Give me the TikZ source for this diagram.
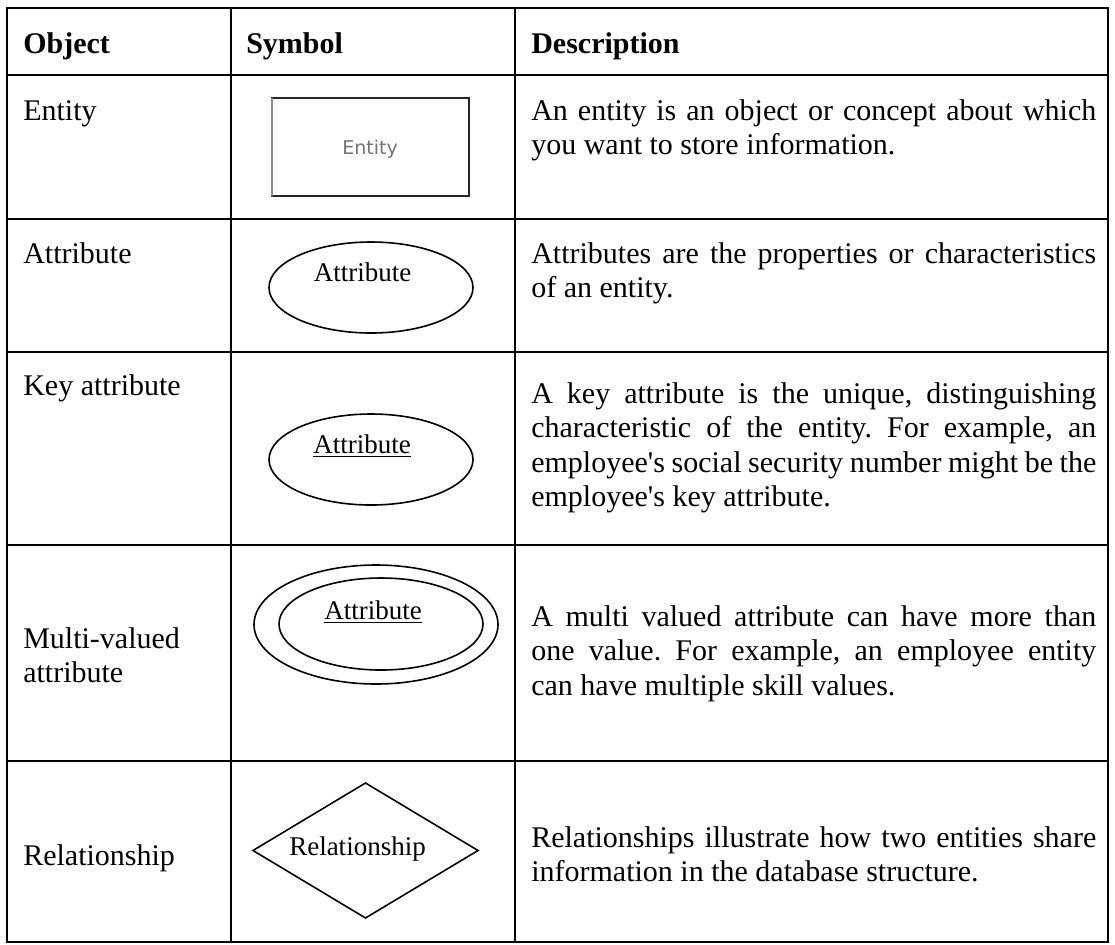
\documentclass[tikz,border=0pt]{standalone}
\usepackage{fontspec}
\setmainfont{Liberation Serif}
\newfontfamily\boxfont{DejaVu Sans}
\frenchspacing

\tikzset{
	cell/.style={anchor=base west,inner sep=0pt,font=\fontsize{15}{17.3}\selectfont},
	head/.style={cell,font=\fontsize{15}{17.3}\selectfont\bfseries},
	desc/.style={cell,text width=282.5pt,align=justify},
	symtext/.style={anchor=base,inner sep=0pt,font=\fontsize{13.5}{16}\selectfont},
	symline/.style={line width=0.8pt}
}

\begin{document}
\begin{tikzpicture}[x=0.5pt,y=-0.5pt,line width=1.3pt]
	\useasboundingbox (0,0) rectangle (1115,944);
	% grid of the table
	\foreach \y in {8,75,219,352,545,761,942}\draw[line cap=rect] (7,\y)--(1108,\y);
	\foreach \x in {7,231,515,1108}\draw[line cap=rect] (\x,8)--(\x,942);
	% header
	\node[head] (hobject) at (22,53) {Object};
	\node[head] (hsymbol) at (245,53) {Symbol};
	\node[head] (hdesc) at (530,53) {Description};
	% objects
	\node[cell] (oentity) at (22,120) {Entity};
	\node[cell] (oattr) at (22,263) {Attribute};
	\node[cell] (okey) at (22,395) {Key attribute};
	\node[cell,text width=100pt] (omulti) at (22,648) {Multi-valued\\attribute};
	\node[cell] (orel) at (22,865) {Relationship};
	% symbols
	\draw[symline,draw=black!85] (272,98) rectangle (469,196);
	\draw[symline,draw=black!45] (272,98)--(272,196);
	\node[anchor=base,inner sep=0pt,text=black!55,font=\boxfont\fontsize{9.5}{11}\selectfont] (sentity) at (370,154) {Entity};
	\draw[symline] (371,287.5) ellipse [x radius=102,y radius=45.5];
	\node[symtext] (sattr) at (362.5,281) {Attribute};
	\draw[symline] (371,459.5) ellipse [x radius=102,y radius=45.5];
	\node[symtext] (skey) at (362,453) {\underline{Attribute}};
	\draw[symline] (376,624.5) ellipse [x radius=122,y radius=59.5];
	\draw[symline] (381,624) ellipse [x radius=102,y radius=46];
	\node[symtext] (smulti) at (373,619) {\underline{Attribute}};
	\draw[symline,line join=miter] (253,850.5)--(365.5,783)--(478,850.5)--(365.5,918)--cycle;
	\node[symtext] (srel) at (357.5,855) {Relationship};
	% descriptions
	\node[desc] (dentity) at (530,120) {An entity is an object or concept about which\linebreak you want to store information.};
	\node[desc] (dattr) at (530,263) {Attributes are the properties or characteristics\linebreak of an entity.};
	\node[desc] (dkey) at (530,403) {A key attribute is the unique, distinguishing\linebreak characteristic of the entity. For example, an\linebreak employee\textquotesingle s social security number might be the\linebreak employee\textquotesingle s key attribute.};
	\node[desc] (dmulti) at (530,626) {A multi valued attribute can have more than\linebreak one value. For example, an employee entity\linebreak can have multiple skill values.};
	\node[desc] (drel) at (530,847) {Relationships illustrate how two entities share\linebreak information in the database structure.};
\end{tikzpicture}
\end{document}
